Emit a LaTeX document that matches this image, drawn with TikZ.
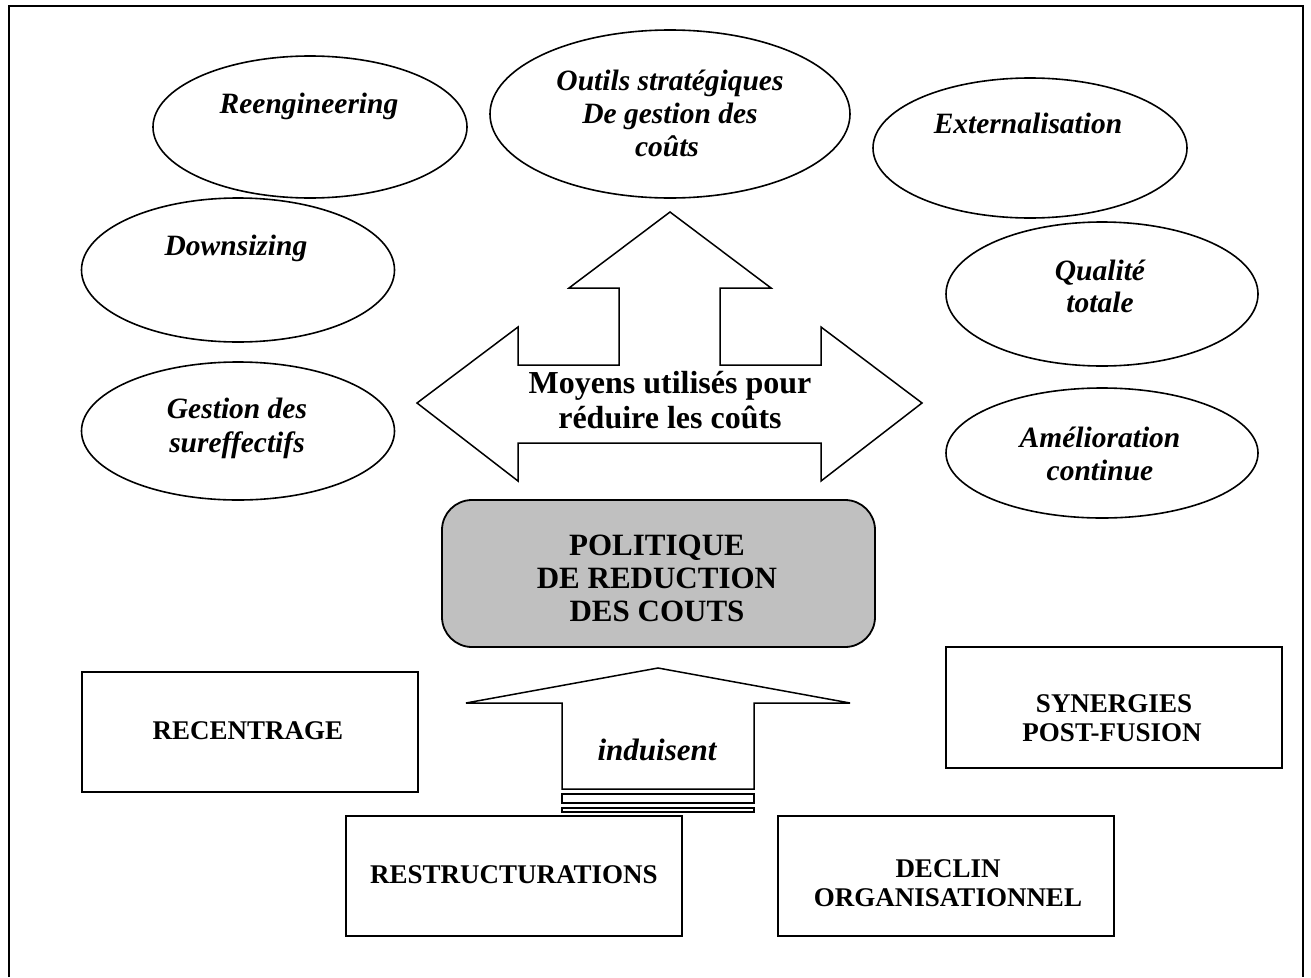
\documentclass[tikz,border=0pt]{standalone}
\usepackage{fontspec}
\setmainfont{Liberation Serif}
\usetikzlibrary{shapes.geometric}
\definecolor{panelgray}{RGB}{192,192,192}
\begin{document}
\begin{tikzpicture}[x=1pt,y=-1pt,
  oval/.style={draw, ellipse, line width=1.6pt, inner sep=0pt, fill=white},
  ovaltext/.style={anchor=base, inner sep=0pt, font=\fontsize{29.5}{30}\selectfont\bfseries\itshape},
  framebox/.style={draw, line width=2pt, inner sep=0pt, minimum width=336pt, minimum height=120pt},
  boxtext/.style={anchor=base, inner sep=0pt, font=\fontsize{27}{28}\selectfont\bfseries},
  bigtext/.style={anchor=base, inner sep=0pt, font=\fontsize{32}{33}\selectfont\bfseries},
  poltext/.style={anchor=base, inner sep=0pt, font=\fontsize{31}{32}\selectfont\bfseries},
  arrowshape/.style={draw, line width=1.5pt, line join=miter, fill=white}]

\useasboundingbox[fill=white] (0,0) rectangle (1311,977);

% outer frame, open at the bottom
\draw[line width=2pt] (9,977) -- (9,6) -- (1303,6) -- (1303,977);

% cost-cutting tools (ellipses)
\node[oval, minimum width=314pt, minimum height=142pt] (reeng) at (310,127) {};
\node[ovaltext] (reengT) at (309,113) {Reengineering};

\node[oval, minimum width=360pt, minimum height=168pt] (outils) at (670,114) {};
\node[ovaltext] (outilsA) at (670,90) {Outils stratégiques};
\node[ovaltext] (outilsB) at (670,123) {De gestion des};
\node[ovaltext] (outilsC) at (667,156) {coûts};

\node[oval, minimum width=314pt, minimum height=140pt] (extern) at (1030,148) {};
\node[ovaltext] (externT) at (1028,133) {Externalisation};

\node[oval, minimum width=313pt, minimum height=144pt] (downs) at (238,270) {};
\node[ovaltext] (downsT) at (236,255) {Downsizing};

\node[oval, minimum width=313pt, minimum height=138pt] (gest) at (238,431) {};
\node[ovaltext] (gestA) at (237,418) {Gestion des};
\node[ovaltext] (gestB) at (237,452) {sureffectifs};

\node[oval, minimum width=312pt, minimum height=144pt] (qual) at (1102,294) {};
\node[ovaltext] (qualA) at (1100,280) {Qualité};
\node[ovaltext] (qualB) at (1100,312) {totale};

\node[oval, minimum width=312pt, minimum height=130pt] (amel) at (1102,453) {};
\node[ovaltext] (amelA) at (1100,447) {Amélioration};
\node[ovaltext] (amelB) at (1100,480) {continue};

% three-way block arrow
\draw[arrowshape]
  (417,403) -- (518,327) -- (518,365) -- (619,365) -- (619,288) -- (569,288)
  -- (670,212) -- (771,288) -- (720,288) -- (720,365) -- (821,365) -- (821,327)
  -- (922,403) -- (821,481) -- (821,443) -- (518,443) -- (518,481) -- cycle;
\node[bigtext] (moyensA) at (670,393) {Moyens utilisés pour};
\node[bigtext] (moyensB) at (670,428) {réduire les coûts};

% central policy box
\node[draw, line width=1.8pt, rounded corners=30pt, fill=panelgray,
      minimum width=433pt, minimum height=147pt, inner sep=0pt] (politique) at (658.5,573.5) {};
\node[poltext] (polA) at (657,555) {POLITIQUE};
\node[poltext] (polB) at (657,588) {DE REDUCTION};
\node[poltext] (polC) at (657,621) {DES COUTS};

% upward arrow with striped tail
\draw[arrowshape]
  (658,668) -- (850,703) -- (754,703) -- (754,789) -- (562,789) -- (562,703)
  -- (466,703) -- cycle;
\draw[line width=1.5pt] (562,794) rectangle (754,803);
\draw[line width=1.5pt] (562,808) rectangle (754,812);
\node[anchor=base, inner sep=0pt, font=\fontsize{31}{32}\selectfont\bfseries\itshape] (induisent) at (657,760) {induisent};

% causes (rectangles)
\node[framebox] (recentrage) at (250,732) {};
\node[boxtext] (recentrageT) at (248,739) {RECENTRAGE};

\node[framebox, minimum height=121pt] (synergies) at (1114,707.5) {};
\node[boxtext] (synergiesA) at (1114,712) {SYNERGIES};
\node[boxtext] (synergiesB) at (1112,741) {POST-FUSION};

\node[framebox] (restruct) at (514,876) {};
\node[boxtext] (restructT) at (514,883) {RESTRUCTURATIONS};

\node[framebox] (declin) at (946,876) {};
\node[boxtext] (declinA) at (948,877) {DECLIN};
\node[boxtext] (declinB) at (948,906) {ORGANISATIONNEL};

\end{tikzpicture}
\end{document}
